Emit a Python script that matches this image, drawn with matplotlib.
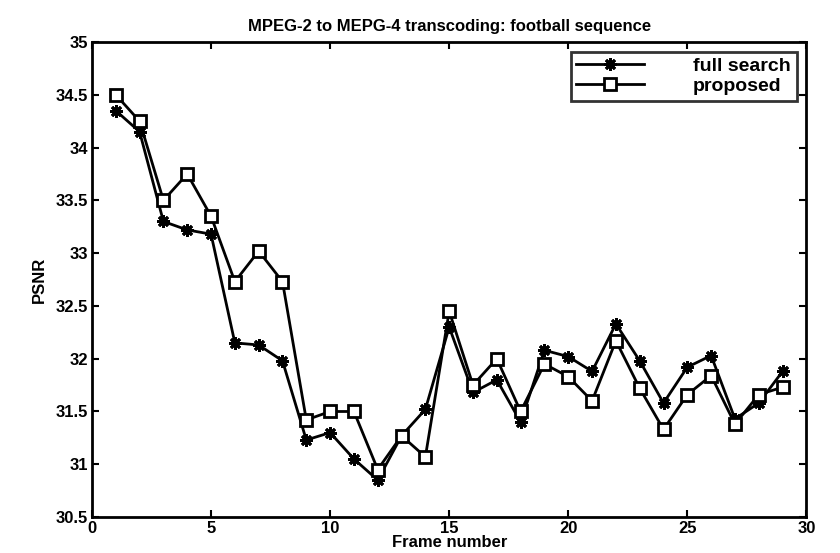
import matplotlib
matplotlib.use("Agg")
from matplotlib import pyplot as plt

plt.rcParams['font.family'] = ['Liberation Sans', 'DejaVu Sans']
plt.rcParams['font.weight'] = 'bold'

frames = list(range(1, 30))
full_search = [34.35, 34.15, 33.30, 33.22, 33.18, 32.15, 32.13, 31.98, 31.23, 31.30,
               31.05, 30.85, 31.27, 31.52, 32.30, 31.68, 31.80, 31.40, 32.08, 32.02,
               31.88, 32.33, 31.98, 31.58, 31.92, 32.03, 31.43, 31.58, 31.88]
proposed = [34.50, 34.25, 33.50, 33.75, 33.35, 32.73, 33.02, 32.73, 31.42, 31.50,
            31.50, 30.95, 31.27, 31.07, 32.45, 31.75, 32.00, 31.50, 31.95, 31.83,
            31.60, 32.17, 31.72, 31.33, 31.66, 31.84, 31.38, 31.66, 31.73]

fig = plt.figure(figsize=(8.4, 5.53), dpi=100)
ax = fig.add_axes([0.1095, 0.065, 0.8505, 0.859])

ax.plot(frames, full_search, color='black', lw=2, marker=(8, 2, 0), ms=9,
        mew=2, label='full search')
ax.plot(frames, proposed, color='black', lw=2, marker='s', ms=9, mfc='white',
        mew=2, label='proposed')

ax.set_xlim(0, 30)
ax.set_ylim(30.5, 35)
ax.set_xticks([0, 5, 10, 15, 20, 25, 30])
ax.set_yticks([30.5, 31, 31.5, 32, 32.5, 33, 33.5, 34, 34.5, 35])
ax.set_yticklabels(['30.5', '31', '31.5', '32', '32.5', '33', '33.5', '34', '34.5', '35'])
ax.tick_params(direction='in', top=True, right=True, length=5, width=1.5,
               labelsize=12, pad=3)
for s in ax.spines.values():
    s.set_linewidth(2)

ax.set_xlabel('Frame number', fontsize=12, fontweight='bold', labelpad=-1)
ax.set_ylabel('PSNR', fontsize=12, fontweight='bold', labelpad=6)
ax.set_title('MPEG-2 to MEPG-4 transcoding: football sequence', fontsize=12,
             fontweight='bold', pad=8)

leg = ax.legend(loc='upper right', fontsize=14, frameon=True, fancybox=False,
                edgecolor='black', handlelength=3.5, borderpad=0.3,
                labelspacing=0.1, handletextpad=2.5)
leg.get_frame().set_linewidth(2)

fig.savefig('out.png', dpi=100)
